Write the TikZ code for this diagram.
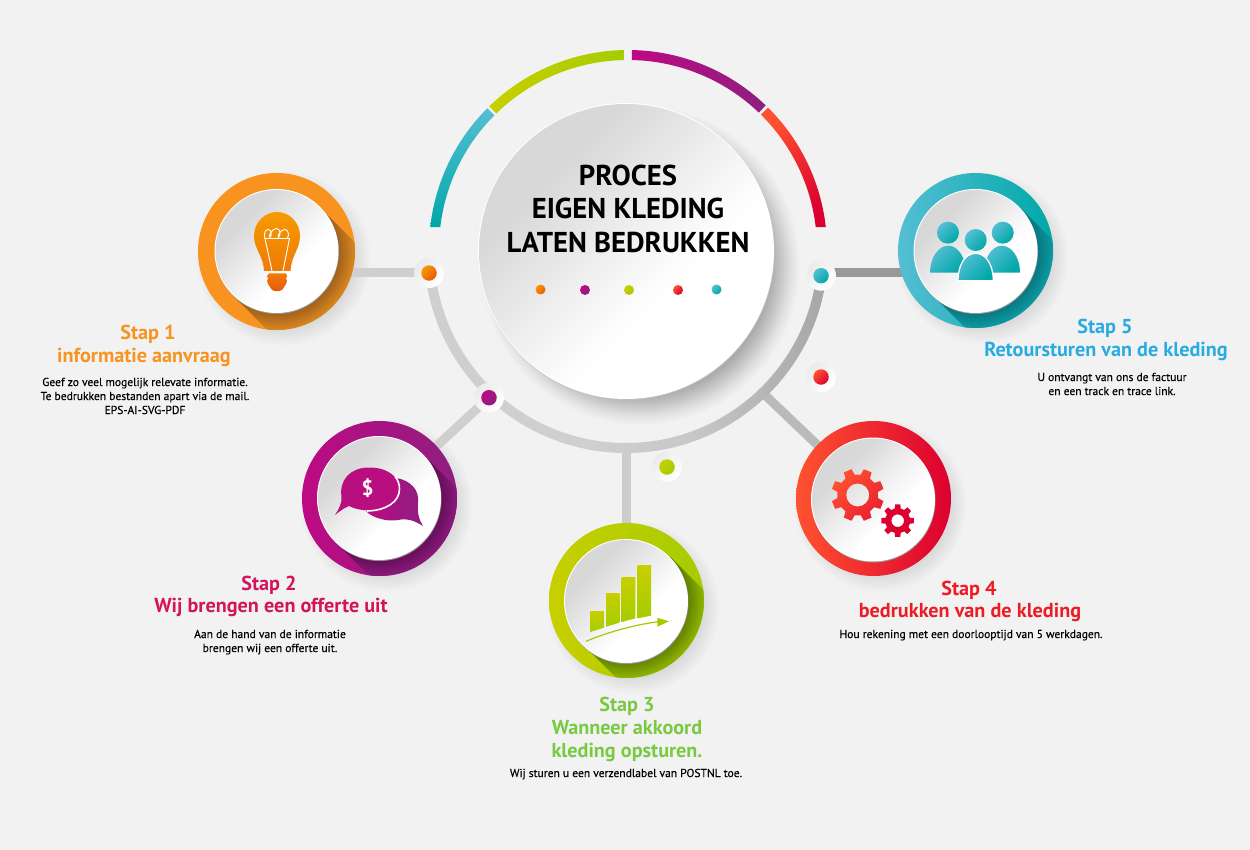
\documentclass[tikz,border=0pt]{standalone}
\usepackage{fontspec}
\setmainfont{PT Sans}
\usetikzlibrary{calc}
\definecolor{bgc}{HTML}{F2F2F2}
\definecolor{softc}{HTML}{DADADA}
\definecolor{softd}{HTML}{A6A6A6}
\definecolor{softm}{HTML}{BEBEBE}
\definecolor{softn}{HTML}{E0E0E0}
\definecolor{discA}{HTML}{D8D8D8}
\definecolor{discB}{HTML}{F2F2F2}
\definecolor{HTMLa}{HTML}{55BED4}\definecolor{HTMLb}{HTML}{00A8A8}
\definecolor{HTMLc}{HTML}{C8CF00}\definecolor{HTMLd}{HTML}{A5CC00}
\definecolor{HTMLe}{HTML}{BE0A82}\definecolor{HTMLf}{HTML}{8E1F80}
\definecolor{HTMLg}{HTML}{FF5230}\definecolor{HTMLh}{HTML}{DC0030}
\definecolor{HTMLi}{HTML}{F7931E}\definecolor{HTMLj}{HTML}{F79A00}
\definecolor{HTMLk}{HTML}{E8590C}\definecolor{HTMLm}{HTML}{F59A00}
\definecolor{HTMLn}{HTML}{E8590C}\definecolor{HTMLo}{HTML}{F07A08}
\definecolor{HTMLp}{HTML}{A8C800}\definecolor{HTMLq}{HTML}{D4145A}
\definecolor{HTMLr}{HTML}{7AC943}\definecolor{HTMLs}{HTML}{ED1C24}
\definecolor{HTMLt}{HTML}{29ABE2}\definecolor{HTMLu}{HTML}{B80E80}
% long shadow colours
\definecolor{oD}{HTML}{A05F1B}\definecolor{oL}{HTML}{D98620}
\definecolor{pD}{HTML}{650E58}\definecolor{pL}{HTML}{8C1A7E}
\definecolor{gD}{HTML}{628000}\definecolor{gL}{HTML}{90B800}
\definecolor{tD}{HTML}{08757E}\definecolor{tL}{HTML}{0C9CA4}
\definecolor{gra}{HTML}{CFCFCF}\definecolor{grb}{HTML}{C8C8C8}\definecolor{grc}{HTML}{A6A6A6}
\pgfdeclareradialshading{softring}{\pgfpointorigin}{color(0bp)=(softc);color(20bp)=(softc);color(25bp)=(bgc);color(50bp)=(bgc)}
\pgfdeclareradialshading{softmain}{\pgfpointorigin}{color(0bp)=(softd);color(20bp)=(softd);color(21.5bp)=(softm);color(23.5bp)=(softn);color(25bp)=(bgc);color(50bp)=(bgc)}
\pgfdeclarehorizontalshading{greyring}{100bp}{color(0bp)=(gra);color(45bp)=(gra);color(58bp)=(grb);color(75bp)=(grc);color(100bp)=(grc)}
\pgfdeclareverticalshading{discg}{100bp}{color(0bp)=(white);color(40bp)=(white);color(50bp)=(discB);color(68bp)=(discA);color(100bp)=(discA)}
\pgfdeclareradialshading{lsO}{\pgfpointorigin}{color(0bp)=(oD);color(18bp)=(oD);color(23bp)=(oL);color(50bp)=(oL)}
\pgfdeclareradialshading{lsP}{\pgfpointorigin}{color(0bp)=(pD);color(18bp)=(pD);color(23bp)=(pL);color(50bp)=(pL)}
\pgfdeclareradialshading{lsG}{\pgfpointorigin}{color(0bp)=(gD);color(18bp)=(gD);color(23bp)=(gL);color(50bp)=(gL)}
\pgfdeclareradialshading{lsT}{\pgfpointorigin}{color(0bp)=(tD);color(18bp)=(tD);color(23bp)=(tL);color(50bp)=(tL)}
\tikzset{
  connector/.style={line width=9pt,line cap=butt},
  dotdisc/.style={circle,inner sep=0pt,minimum size=30pt,top color=black!8,bottom color=white,shading angle=45},
  dotcore/.style={circle,inner sep=0pt,minimum size=15.5pt},
  smalldot/.style={circle,inner sep=0pt,minimum size=10pt},
  titletxt/.style={anchor=base,inner sep=0pt,font=\fontsize{20.2}{24}\bfseries\selectfont},
  bodytxt/.style={anchor=base,inner sep=0pt,text=black,font=\fontsize{11.55}{13}\selectfont\addfontfeature{FakeBold=0.25}},
  headtxt/.style={anchor=base,inner sep=0pt,text=black,font=\fontsize{28.7}{32}\bfseries\selectfont},
}
\newcommand\softshadow[4]{% x y radius shading
  \shade[shading=#4] (#1,#2) circle (#3);}
\newcommand\whitedisc[3]{% coordinate, radius, rim colour
  \fill[#3] ($(#1)+(0.5,1)$) circle (#2);
  \fill[white] (#1) circle (#2);
  \shade[shading=discg,shading angle=45] (#1) circle ({#2-1});}
\newcommand\longshadow[5]{% cx cy R(ring) rdisc shading
  \begin{scope}
  \clip (#1,#2) circle (#3);
  \clip ({#1+0.7071*#4},{#2-0.7071*#4}) -- ({#1-0.7071*#4},{#2+0.7071*#4}) -- ({#1-0.7071*#4+80},{#2+0.7071*#4+80}) -- ({#1+0.7071*#4+80},{#2-0.7071*#4+80}) -- cycle;
  \shade[shading=#5] (#1,#2) circle (85);
  \end{scope}}
\newcommand\gearat[7]{% cx cy Rtip Rroot offset rhole shadeopts
  \shade[even odd rule,#7]
   ({#1+#4*cos(#5-14)},{#2+#4*sin(#5-14)})
   foreach \k in {0,...,7}{
     -- ({#1+#4*cos(#5+\k*45-14)},{#2+#4*sin(#5+\k*45-14)})
     -- ({#1+#3*cos(#5+\k*45-9)},{#2+#3*sin(#5+\k*45-9)})
     -- ({#1+#3*cos(#5+\k*45+9)},{#2+#3*sin(#5+\k*45+9)})
     -- ({#1+#4*cos(#5+\k*45+14)},{#2+#4*sin(#5+\k*45+14)})
   } -- cycle
   (#1,#2) circle (#6);}
\begin{document}
\begin{tikzpicture}[x=1pt,y=-1pt]
\useasboundingbox (0,0) rectangle (1250,850);
\fill[bgc] (0,0) rectangle (1250,850);
% anchor points
\coordinate (main) at (626,251);
\coordinate (s1) at (276.5,251.5);
\coordinate (s2) at (379.5,498.5);
\coordinate (s3) at (626.5,600.5);
\coordinate (s4) at (873.5,498.5);
\coordinate (s5) at (975.5,250.5);
\coordinate (d1) at (429,273);
\coordinate (d2) at (489,397.7);
\coordinate (d3) at (667,467);
\coordinate (d4) at (821,377);
\coordinate (d5) at (821,275.7);
\coordinate (j3) at (626.5,447);
\coordinate (j4) at (765,395);
\coordinate (j5) at (821,272.8);
% soft shadows
\softshadow{283}{258}{88}{softring}
\softshadow{386}{505}{87}{softring}
\softshadow{633}{607}{87}{softring}
\softshadow{880}{505}{87}{softring}
\softshadow{982}{257}{87}{softring}
\shade[shading=softmain] (640,265) circle (160);
% connectors
\draw[connector,color=black!19] (d1) -- (d1 -| s1);
\draw[connector,color=black!19] (d2) -- (s2);
\draw[connector,color=black!20] (j3) -- (s3);
\draw[connector,color=black!27] (j4) -- (s4);
\draw[connector,color=black!40] (j5) -- (j5 -| s5);
% grey ring
\begin{scope}[shift={(main)}]
\shade[shading=greyring] (7:202) arc[start angle=7,end angle=173.6,radius=202] -- (173.6:192) arc[start angle=173.6,end angle=7,radius=192] -- cycle;
\end{scope}
% coloured arc segments
\begin{scope}[shift={(628,249)}]
\shade[top color=HTMLa,bottom color=HTMLb,shading angle=0] (186.34:199) arc[start angle=186.34,end angle=225,radius=199] -- (225:189) arc[start angle=225,end angle=186.68,radius=189] -- cycle;
\shade[top color=HTMLc,bottom color=HTMLd,shading angle=90] (225.8:199) arc[start angle=225.8,end angle=268.85,radius=199] -- (268.85:189) arc[start angle=268.85,end angle=225.8,radius=189] -- cycle;
\shade[top color=HTMLe,bottom color=HTMLf,shading angle=90] (271.15:199) arc[start angle=271.15,end angle=313.8,radius=199] -- (313.8:189) arc[start angle=313.8,end angle=271.15,radius=189] -- cycle;
\shade[top color=HTMLg,bottom color=HTMLh,shading angle=45] (314.7:199) arc[start angle=314.7,end angle=353.66,radius=199] -- (353.32:189) arc[start angle=353.32,end angle=314.7,radius=189] -- cycle;
\end{scope}
% main disc
\whitedisc{main}{148}{black!25}
% ring 1 orange
\fill[HTMLi] (s1) circle (78.5);
\longshadow{276.5}{251.5}{78.5}{62}{lsO}
\coordinate (c1) at (276.5,251);
\whitedisc{c1}{62}{black!42}
% ring 2 purple
\shade[top color=HTMLe,bottom color=HTMLf,shading angle=90] (s2) circle (77.5);
\longshadow{379.5}{498.5}{77.5}{62}{lsP}
\coordinate (c2) at (379,498);
\whitedisc{c2}{62}{black!42}
% ring 3 green
\shade[top color=HTMLc,bottom color=HTMLd,shading angle=90] (s3) circle (77.5);
\longshadow{626.5}{600.5}{77.5}{62}{lsG}
\coordinate (c3) at (626,601);
\whitedisc{c3}{62}{black!42}
% ring 4 red
\shade[top color=HTMLg,bottom color=HTMLh,shading angle=90] (s4) circle (77.5);
\coordinate (c4) at (873,499.5);
\whitedisc{c4}{62}{black!42}
% ring 5 teal
\shade[top color=HTMLa,bottom color=HTMLb,shading angle=90] (s5) circle (77.5);
\longshadow{975.5}{250.5}{77.5}{62}{lsT}
\coordinate (c5) at (975.5,251);
\whitedisc{c5}{62}{black!42}
% small marks on the ring
\node[dotdisc] (m1) at (d1) {};
\node[dotcore,top color=HTMLj,bottom color=HTMLk,shading angle=45] (n1) at (d1) {};
\node[dotdisc] (m2) at (d2) {};
\node[dotcore,top color=HTMLe,bottom color=HTMLf,shading angle=45] (n2) at (d2) {};
\node[dotdisc] (m3) at (d3) {};
\node[dotcore,top color=HTMLc,bottom color=HTMLd,shading angle=45] (n3) at (d3) {};
\node[dotdisc] (m4) at (d4) {};
\node[dotcore,top color=HTMLg,bottom color=HTMLh,shading angle=45] (n4) at (d4) {};
\node[dotdisc] (m5) at (d5) {};
\node[dotcore,top color=HTMLa,bottom color=HTMLb,shading angle=45] (n5) at (d5) {};
% row of dots
\node[smalldot,top color=HTMLj,bottom color=HTMLk,shading angle=45] (r1) at (540.5,289.5) {};
\node[smalldot,top color=HTMLe,bottom color=HTMLf,shading angle=45] (r2) at (585,290) {};
\node[smalldot,top color=HTMLc,bottom color=HTMLd,shading angle=45] (r3) at (629,290) {};
\node[smalldot,top color=HTMLg,bottom color=HTMLh,shading angle=45] (r4) at (678,290) {};
\node[smalldot,top color=HTMLa,bottom color=HTMLb,shading angle=45] (r5) at (716.5,289.5) {};
% bulb
\shade[top color=HTMLm,bottom color=HTMLo] (277,212) .. controls (289,212) and (300,222) .. (300,236) .. controls (300,249) and (291,256) .. (290.5,271) -- (264,271) .. controls (263.5,256) and (254,249) .. (254,236) .. controls (254,222) and (265,212) .. (277,212) -- cycle;
\shade[top color=HTMLo,bottom color=HTMLn] (269,273.5) -- (286,273.5) -- (287,276) -- (286,278.5) -- (287,281) -- (286,284) -- (282,290) .. controls (279,291.5) and (275,291.5) .. (272,290) -- (268,284) -- (267,281) -- (268,278.5) -- (267,276) -- cycle;
\draw[white,line width=.9pt] (264,238.5) -- (290,238.5);
\draw[white,line width=.9pt] (265,238.5) -- (272,271);
\draw[white,line width=.9pt] (289.5,238.5) -- (283,271);
\draw[white,line width=.9pt] (264.9,238.5) .. controls (263.5,234) and (265,229.5) .. (268.2,229.5) .. controls (271.5,229.5) and (272.5,235) .. (270,237.5) .. controls (268,236) and (272,228.5) .. (276.5,228.5) .. controls (280.5,228.5) and (281,235) .. (278.5,237.5) .. controls (276.5,236) and (281,229.5) .. (284.8,229.5) .. controls (288,229.5) and (289.5,234) .. (287.5,238.5);
% speech bubbles
\shade[top color=HTMLe,bottom color=HTMLf,shading angle=90] (396,478) .. controls (410,480) and (420,490) .. (418,503) .. controls (417,512) and (419,520) .. (423,526) .. controls (415,521) and (408,518) .. (398,520) .. controls (388,522) and (372,518) .. (366,511) .. controls (380,512) and (396,506) .. (399,492) -- cycle;
\fill[HTMLu] (368,467.5) .. controls (386,467) and (399.5,476) .. (399.5,489) .. controls (399.5,502) and (386,510.5) .. (370,510.5) .. controls (362,510.5) and (355,509) .. (349,506) .. controls (344,508) and (340,511) .. (335,515) .. controls (339,509) and (342,503) .. (341.5,497) .. controls (339,480) and (350,468) .. (368,467.5) -- cycle;
\draw[white,line width=1.6pt] (395,476.5) .. controls (398,480) and (399.5,484) .. (399.5,489) .. controls (399.5,502) and (386,510.5) .. (367,511);
\node[inner sep=0pt,text=white,font=\fontsize{21}{21}\bfseries\selectfont] (dollar) at (367.5,488) {\$};
% chart
\shade[top color=HTMLc,bottom color=HTMLd,shading angle=0] (590,611) -- (604,611) -- (604,627.7) -- (590,632) -- cycle;
\shade[top color=HTMLc,bottom color=HTMLd,shading angle=0] (606,593) -- (619.3,593) -- (619.3,622.7) -- (606,626.7) -- cycle;
\shade[top color=HTMLc,bottom color=HTMLd,shading angle=0] (621.7,577) -- (635.3,577) -- (635.3,618.3) -- (621.7,622) -- cycle;
\shade[top color=HTMLc,bottom color=HTMLd,shading angle=0] (637.7,565) -- (651,565) -- (651,615.7) -- (637.7,618.3) -- cycle;
\draw[color=HTMLp,line width=1.2pt] (586,641.3) .. controls (608,632) and (634,625) .. (658,621.7);
\fill[HTMLp] (657.3,617.7) -- (669,621.3) -- (657.3,626.7) -- cycle;
% gears
\gearat{857.7}{495}{26.5}{20.5}{22.5}{11.5}{top color=HTMLg,bottom color=HTMLh!60!HTMLg,shading angle=45}
\gearat{897.7}{520.7}{16.5}{12.5}{0}{6.3}{top color=HTMLh,bottom color=HTMLh}
% people
\shade[top color=HTMLa,bottom color=HTMLb,shading angle=45] (948,232.7) circle (11);
\shade[top color=HTMLa,bottom color=HTMLb,shading angle=45] (1002.7,232.7) circle (11);
\shade[top color=HTMLa,bottom color=HTMLb,shading angle=45] (930,272.7) .. controls (930,258) and (938,245.7) .. (948.3,245.7) .. controls (958,245.7) and (966,258) .. (966,272.7) -- cycle;
\shade[top color=HTMLa,bottom color=HTMLb,shading angle=45] (984,272.7) .. controls (984,258) and (992,245.7) .. (1001.7,245.7) .. controls (1012,245.7) and (1020,258) .. (1020,272.7) -- cycle;
\shade[top color=HTMLa,bottom color=HTMLb,shading angle=45] (975.7,240) circle (11);
\shade[top color=HTMLa,bottom color=HTMLb,shading angle=45,draw=white,line width=1.3pt] (958,280.7) .. controls (958,265) and (965,253.3) .. (975.7,253.3) .. controls (986,253.3) and (993.3,265) .. (993.3,280.7) -- cycle;
% central text
\node[headtxt] (h1) at (628,186) {PROCES};
\node[headtxt] (h2) at (628,219) {EIGEN KLEDING};
\node[headtxt] (h3) at (628,253) {LATEN BEDRUKKEN};
% step 1
\node[titletxt,text=HTMLi] (t1a) at (148,339) {Stap 1};
\node[titletxt,text=HTMLi] (t1b) at (144,362) {informatie aanvraag};
\node[bodytxt] (b1a) at (145,386) {Geef zo veel mogelijk relevate informatie.};
\node[bodytxt] (b1b) at (145,400) {Te bedrukken bestanden apart via de mail.};
\node[bodytxt] (b1c) at (145,414) {EPS-AI-SVG-PDF};
% step 2
\node[titletxt,text=HTMLq] (t2a) at (269,590) {Stap 2};
\node[titletxt,text=HTMLq] (t2b) at (271,612) {Wij brengen een offerte uit};
\node[bodytxt] (b2a) at (270,638) {Aan de hand van de informatie};
\node[bodytxt] (b2b) at (270,652) {brengen wij een offerte uit.};
% step 3
\node[titletxt,text=HTMLr] (t3a) at (627,711) {Stap 3};
\node[titletxt,text=HTMLr] (t3b) at (627,734) {Wanneer akkoord};
\node[titletxt,text=HTMLr] (t3c) at (627,757) {kleding opsturen.};
\node[bodytxt] (b3a) at (626,777) {Wij sturen u een verzendlabel van POSTNL toe.};
% step 4
\node[titletxt,text=HTMLs] (t4a) at (969,595) {Stap 4};
\node[titletxt,text=HTMLs] (t4b) at (970,617) {bedrukken van de kleding};
\node[bodytxt] (b4a) at (971,638) {Hou rekening met een doorlooptijd van 5 werkdagen.};
% step 5
\node[titletxt,text=HTMLt] (t5a) at (1105,333) {Stap 5};
\node[titletxt,text=HTMLt] (t5b) at (1106,356) {Retoursturen van de kleding};
\node[bodytxt] (b5a) at (1112,381) {U ontvangt van ons de factuur};
\node[bodytxt] (b5b) at (1112,395) {en een track en trace link.};
\end{tikzpicture}
\end{document}
